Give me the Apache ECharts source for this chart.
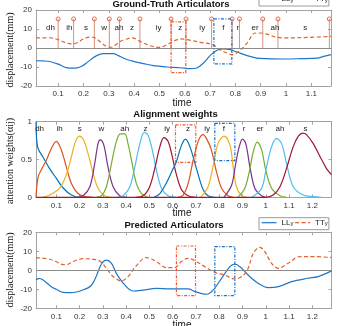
<!DOCTYPE html>
<html><head><meta charset="utf-8">
<script src="https://cdn.jsdelivr.net/npm/echarts@6/dist/echarts.min.js"></script>
<style>html,body{margin:0;padding:0;background:#fff}#c{width:354px;height:326px}</style>
</head><body><div id="c"></div>
<script>
// ---------- DATA ----------
const xTicksTop = [0.1,0.2,0.3,0.4,0.5,0.6,0.7,0.8,0.9,1,1.1];
const xTicksLow = [0.1,0.2,0.3,0.4,0.5,0.6,0.7,0.8,0.9,1,1.1,1.2];
const phonemes = ['dh','ih','s','w','ah','z','iy','z','iy','f','r','er','ah','s'];
const phonemeXTop = [0.070,0.144,0.210,0.282,0.340,0.392,0.497,0.582,0.669,0.752,0.810,0.878,0.956,1.076];
const phonemeXMid = [0.028,0.114,0.200,0.294,0.394,0.483,0.576,0.666,0.748,0.820,0.907,0.975,1.061,1.171];
const stemX = [0.100,0.161,0.243,0.302,0.342,0.423,0.546,0.605,0.706,0.787,0.816,0.908,0.968,1.171];
const stemHeight = 15.3;
const phonemeLabelYTop = 10.8;
const phonemeLabelYMid = 0.9;

const llTrue = [[0.0125,-6.7],[0.04,-6.8],[0.067,-7.1],[0.1,-8.5],[0.132,-10.3],[0.155,-10.6],[0.175,-10.5],[0.195,-9.5],[0.212,-7.9],[0.232,-5.8],[0.252,-4],[0.278,-3],[0.318,-3],[0.338,-4],[0.357,-5.3],[0.377,-6.3],[0.397,-7],[0.437,-8.2],[0.476,-9.3],[0.529,-10],[0.582,-10.4],[0.621,-10.9],[0.648,-10.5],[0.674,-7.9],[0.7,-4],[0.727,-1.2],[0.753,-0.5],[0.78,-0.9],[0.806,-2.1],[0.846,-4],[0.885,-5.3],[0.925,-5.6],[0.991,-5.8],[1.057,-5.6],[1.123,-5.3],[1.149,-4.4],[1.1775,-3.5]];
const ttTrue = [[0.0125,5.3],[0.067,5.4],[0.1,4.4],[0.132,2.6],[0.158,2.2],[0.18,3],[0.198,4.7],[0.231,5.8],[0.25,5],[0.264,3.5],[0.29,0.9],[0.31,0.4],[0.33,2],[0.35,3.8],[0.37,4.7],[0.39,5.3],[0.41,4.6],[0.423,3.5],[0.463,1.2],[0.502,0.3],[0.535,2.1],[0.562,4],[0.585,4.8],[0.608,4.4],[0.661,3],[0.704,2],[0.72,1],[0.733,-0.5],[0.773,-3],[0.786,-3.5],[0.813,-1.8],[0.846,2.6],[0.878,7.9],[0.898,7.9],[0.931,7],[0.958,5.8],[0.997,5.3],[1.089,5.6],[1.1775,6.1]];

const llPred = [[0.0125,-5.1],[0.025,-4.2],[0.042,-5],[0.078,-8.6],[0.1,-10],[0.128,-11.6],[0.164,-11.8],[0.214,-10.4],[0.25,-8],[0.272,-3],[0.293,3.2],[0.315,5.4],[0.337,3.7],[0.358,-1.6],[0.394,-7.7],[0.43,-10.9],[0.473,-10.4],[0.53,-9.5],[0.587,-9.8],[0.609,-9.8],[0.666,-9.8],[0.695,-11.2],[0.745,-12.6],[0.774,-10.4],[0.81,-4.2],[0.846,1.9],[0.867,3.2],[0.889,1.9],[0.924,-2.5],[0.967,-6.8],[1.01,-9.1],[1.055,-8.6],[1.111,-6],[1.182,-4.2],[1.225,-3.3],[1.2825,-0.3]];
const ttPred = [[0.0125,6.7],[0.071,5.8],[0.1,4.5],[0.128,3],[0.15,3.2],[0.172,4.6],[0.214,6.1],[0.258,5.8],[0.286,4.9],[0.315,1.1],[0.344,-3.3],[0.379,-5.6],[0.408,-3.3],[0.444,2.5],[0.487,6.7],[0.53,4.6],[0.573,1.4],[0.609,1.4],[0.637,4.6],[0.666,6.3],[0.695,5.1],[0.738,1.9],[0.781,-1.1],[0.824,-2.5],[0.867,-4.6],[0.9,-3],[0.924,1],[0.946,8.9],[0.975,12.1],[0.996,9.8],[1.025,3.7],[1.055,1],[1.096,3.7],[1.147,7.2],[1.211,7.2],[1.2825,6.7]];

const attDh  = [[0.0125,1.0],[0.02,0.66],[0.043,0.53],[0.071,0.38],[0.1,0.25],[0.13,0.12],[0.165,0.03],[0.2,0],[0.25,0]];
const attIh  = [[0.0125,0],[0.018,0.2],[0.025,0.3],[0.057,0.49],[0.079,0.65],[0.1,0.74],[0.121,0.63],[0.143,0.4],[0.165,0.18],[0.193,0.05],[0.222,0.01],[0.26,0]];
const attS1  = [[0.04,0],[0.071,0.03],[0.114,0.12],[0.143,0.3],[0.165,0.54],[0.179,0.71],[0.198,0.81],[0.215,0.77],[0.236,0.58],[0.258,0.32],[0.279,0.12],[0.308,0.02],[0.337,0]];
const attW   = [[0.19,0],[0.215,0.02],[0.244,0.14],[0.265,0.45],[0.279,0.71],[0.289,0.76],[0.304,0.69],[0.322,0.4],[0.344,0.14],[0.372,0.02],[0.401,0]];
const attAh1 = [[0.27,0],[0.294,0.02],[0.315,0.14],[0.337,0.45],[0.358,0.74],[0.375,0.84],[0.394,0.84],[0.408,0.71],[0.423,0.49],[0.444,0.18],[0.466,0.05],[0.494,0]];
const attZ1  = [[0.36,0],[0.387,0.02],[0.416,0.14],[0.437,0.4],[0.459,0.71],[0.478,0.86],[0.494,0.82],[0.509,0.67],[0.53,0.36],[0.552,0.12],[0.58,0.02],[0.616,0]];
const attIy1 = [[0.44,0],[0.473,0.02],[0.501,0.14],[0.523,0.38],[0.545,0.67],[0.562,0.79],[0.58,0.74],[0.595,0.58],[0.616,0.3],[0.638,0.1],[0.666,0.02],[0.7,0]];
const attZ2  = [[0.52,0],[0.545,0.05],[0.573,0.19],[0.602,0.38],[0.616,0.47],[0.638,0.69],[0.655,0.77],[0.675,0.66],[0.702,0.38],[0.731,0.1],[0.752,0.02],[0.78,0]];
const attIy2 = [[0.62,0],[0.645,0.03],[0.666,0.18],[0.688,0.49],[0.712,0.76],[0.731,0.83],[0.748,0.76],[0.766,0.63],[0.788,0.34],[0.81,0.12],[0.838,0.02],[0.86,0]];
const attF   = [[0.72,0],[0.752,0.14],[0.774,0.42],[0.795,0.71],[0.821,0.81],[0.846,0.69],[0.86,0.4],[0.874,0.14],[0.896,0.02],[0.92,0]];
const attR   = [[0.82,0],[0.853,0.16],[0.871,0.45],[0.886,0.67],[0.9,0.77],[0.914,0.71],[0.932,0.4],[0.953,0.12],[0.982,0.02],[1.0,0]];
const attEr  = [[0.88,0],[0.91,0.12],[0.932,0.38],[0.946,0.6],[0.963,0.73],[0.982,0.63],[1.0,0.36],[1.025,0.12],[1.061,0.02],[1.09,0]];
const attAh2 = [[0.94,0],[0.982,0.12],[1.003,0.4],[1.025,0.67],[1.046,0.78],[1.068,0.71],[1.089,0.45],[1.118,0.14],[1.161,0.03],[1.204,0.01],[1.24,0]];
const attS2  = [[0.0125,0],[1.0,0],[1.032,0.03],[1.061,0.14],[1.089,0.38],[1.118,0.67],[1.14,0.81],[1.16,0.85],[1.175,0.83],[1.204,0.71],[1.233,0.54],[1.261,0.38],[1.2825,0.3]];

const boxRedTop  = [0.546,0.604,-13,13.8];
const boxBlueTop = [0.715,0.786,-8.4,15.3];
const boxRedMid  = [0.612,0.699,0.463,0.957];
const boxBlueMid = [0.781,0.867,0.484,0.979];
const boxRedLow  = [0.616,0.698,-13.3,12.8];
const boxBlueLow = [0.781,0.867,-13.3,12.5];

// ---------- STYLE ----------
const FRAME = '#a3a3a3', LABEL = '#333', SANS = 'Liberation Sans, Arial, sans-serif';
const BLUE = '#1f77c9', ORANGE = '#e2602a', RED_BOX = '#f2552c', BLUE_BOX = '#1c6fc4';
const cycle = ['#0072BD','#D95319','#EDB120','#7E2F8E','#77AC30','#4DBEEE','#A2142F'];
const fmt = v => String(Math.round(v * 100) / 100);

function xAxes(g, min, max, ticks) {
  return [
    {type:'value', gridIndex:g, min, max, position:'bottom',
     axisLine:{show:true,onZero:false,lineStyle:{color:FRAME,width:1}},
     axisTick:{show:true,inside:true,length:3,customValues:ticks,lineStyle:{color:FRAME}},
     axisLabel:{show:true,customValues:ticks,formatter:fmt,fontSize:8,color:LABEL,fontFamily:SANS,margin:4},
     splitLine:{show:false}},
    {type:'value', gridIndex:g, min, max, position:'top',
     axisLine:{show:true,onZero:false,lineStyle:{color:FRAME,width:1}},
     axisTick:{show:true,inside:true,length:3,customValues:ticks,lineStyle:{color:FRAME}},
     axisLabel:{show:false}, splitLine:{show:false}}
  ];
}
function yAxes(g, min, max, interval) {
  return [
    {type:'value', gridIndex:g, min, max, interval, position:'left',
     axisLine:{show:true,onZero:false,lineStyle:{color:FRAME,width:1}},
     axisTick:{show:true,inside:true,length:3,lineStyle:{color:FRAME}},
     axisLabel:{show:true,formatter:fmt,fontSize:8,color:LABEL,fontFamily:SANS,margin:4},
     splitLine:{show:false}},
    {type:'value', gridIndex:g, min, max, interval, position:'right',
     axisLine:{show:true,onZero:false,lineStyle:{color:FRAME,width:1}},
     axisTick:{show:true,inside:true,length:3,lineStyle:{color:FRAME}},
     axisLabel:{show:false}, splitLine:{show:false}}
  ];
}

function lineSeries(name, data, g, color, dashed, extra) {
  return Object.assign({
    type:'line', name, data, xAxisIndex:2*g, yAxisIndex:2*g, showSymbol:false, symbol:'none',
    smooth:0.35, silent:true, z:3,
    lineStyle:{color, width:1.2, type: dashed ? [4,2.5] : 'solid'}, itemStyle:{color}
  }, extra || {});
}
function boxSeries(box, g, color) {
  return {
    type:'custom', xAxisIndex:2*g, yAxisIndex:2*g, silent:true, z:5,
    data:[box], encode:{x:[0,1], y:[2,3]},
    renderItem:(p, api) => {
      const a = api.coord([api.value(0), api.value(3)]);
      const b = api.coord([api.value(1), api.value(2)]);
      return {type:'rect', shape:{x:a[0], y:a[1], width:b[0]-a[0], height:b[1]-a[1]},
        style:{fill:'none', stroke:color, lineWidth:1.2, lineDash:[3,1.5,1,1.5]}};
    }
  };
}
function labelSeries(xs, yv, g) {
  return {
    type:'custom', xAxisIndex:2*g, yAxisIndex:2*g, silent:true, z:4,
    data: xs.map((x, i) => [x, yv, i]), encode:{x:0, y:1},
    renderItem:(p, api) => {
      const c = api.coord([api.value(0), api.value(1)]);
      return {type:'text', x:c[0], y:c[1], style:{text: phonemes[api.value(2)], textAlign:'center', textVerticalAlign:'middle', fontSize:8, fontFamily:SANS, fill:'#222'}};
    }
  };
}

const zeroLine = {silent:true, symbol:'none', label:{show:false}, lineStyle:{color:'#8c8c8c', type:'solid', width:1}, data:[{yAxis:0}]};

const attList = [attDh, attIh, attS1, attW, attAh1, attZ1, attIy1, attZ2, attIy2, attF, attR, attEr, attAh2, attS2];

const series = [
  // top panel
  {type:'custom', xAxisIndex:0, yAxisIndex:0, silent:true, z:2,
   data: stemX.map(x => [x, stemHeight]), encode:{x:0, y:1},
   renderItem:(p, api) => {
     const p0 = api.coord([api.value(0), 0]), p1 = api.coord([api.value(0), api.value(1)]);
     return {type:'group', children:[
       {type:'line', shape:{x1:p0[0], y1:p0[1], x2:p1[0], y2:p1[1]}, style:{stroke:'#d4927e', lineWidth:1}},
       {type:'circle', shape:{cx:p1[0], cy:p1[1], r:2}, style:{stroke:'#e2694a', fill:'none', lineWidth:1}}
     ]};
   }},
  labelSeries(phonemeXTop, phonemeLabelYTop, 0),
  lineSeries('LL_y', llTrue, 0, BLUE, false, {markLine: zeroLine}),
  lineSeries('TT_y', ttTrue, 0, ORANGE, true),
  boxSeries(boxRedTop, 0, RED_BOX),
  boxSeries(boxBlueTop, 0, BLUE_BOX),
  // middle panel
  ...attList.map((d, i) => ({
    type:'line', name:'att'+i, data:d, xAxisIndex:2, yAxisIndex:2, showSymbol:false, symbol:'none',
    smooth:0.35, silent:true, z:3, lineStyle:{color:cycle[i % 7], width:1.2}, itemStyle:{color:cycle[i % 7]}
  })),
  labelSeries(phonemeXMid, phonemeLabelYMid, 1),
  boxSeries(boxRedMid, 1, RED_BOX),
  boxSeries(boxBlueMid, 1, BLUE_BOX),
  // bottom panel
  lineSeries('LL_y', llPred, 2, BLUE, false, {markLine: zeroLine}),
  lineSeries('TT_y', ttPred, 2, ORANGE, true),
  boxSeries(boxRedLow, 2, RED_BOX),
  boxSeries(boxBlueLow, 2, BLUE_BOX)
];

function mkLegend(top) {
  return {
    top, left:259, orient:'horizontal', data:['LL_y','TT_y'], selectedMode:false,
    itemWidth:15, itemHeight:8, itemGap:1, padding:[1,1,1,2],
    itemStyle:{opacity:0, borderWidth:0},
    lineStyle:{width:1.2},
    borderColor:'#9a9a9a', borderWidth:1, backgroundColor:'#fff',
    formatter: n => n === 'LL_y' ? '{m|LL}{s|y}' : '{m|TT}{s|y}',
    textStyle:{fontSize:8, color:'#222', fontFamily:SANS,
      rich:{m:{fontSize:8, lineHeight:8, padding:[0,0,2,0], verticalAlign:'top'},
            s:{fontSize:6, lineHeight:6, verticalAlign:'bottom'}}}
  };
}

const titleFont = 'bold 9.5px Liberation Sans, Arial, sans-serif';
const axisFont = '10px Liberation Sans, Arial, sans-serif';
const serifFont = '10px Liberation Serif, Times New Roman, serif';
function gText(text, x, y, font, rot) {
  return {type:'text', x, y, rotation: rot || 0, silent:true, z:10,
    style:{text, font, fill:'#111', textAlign:'center', textVerticalAlign:'middle'}};
}

const option = {
  animation:false,
  grid:[
    {left:36, top:10, width:295, height:76},
    {left:36, top:121.7, width:295.5, height:75.6},
    {left:36, top:232.3, width:295.5, height:76}
  ],
  xAxis:[...xAxes(0, 0.0125, 1.1775, xTicksTop), ...xAxes(1, 0.0125, 1.2825, xTicksLow), ...xAxes(2, 0.0125, 1.2825, xTicksLow)],
  yAxis:[...yAxes(0, -20, 20, 10), ...yAxes(1, 0, 1, 0.5), ...yAxes(2, -20, 20, 10)],
  legend:[mkLegend(-6), mkLegend(217.7)],
  graphic:[
    gText('Ground-Truth Articulators', 171, 4, titleFont),
    gText('Alignment weights', 175.5, 114.3, titleFont),
    gText('Predicted Articulators', 174, 225.7, titleFont),
    gText('time', 182, 103.5, axisFont),
    gText('time', 182, 213.5, axisFont),
    gText('time', 182, 325, axisFont),
    gText('displacement(mm)', 10, 50, serifFont, Math.PI/2),
    gText('attention weights(αij)', 10, 161, serifFont, Math.PI/2),
    gText('displacement(mm)', 10, 270, serifFont, Math.PI/2)
  ],
  series
};
const chart = echarts.init(document.getElementById('c'), null, {renderer:'canvas'});
chart.setOption(option);
</script></body></html>
